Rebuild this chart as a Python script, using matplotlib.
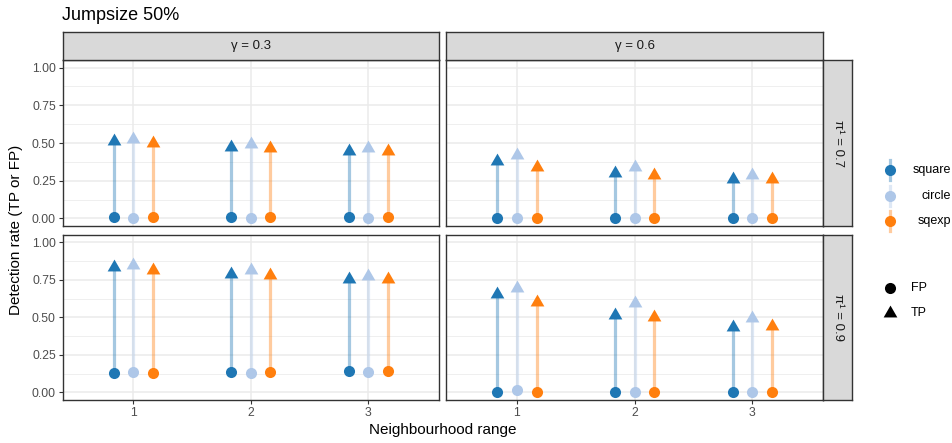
import numpy as np
import matplotlib
matplotlib.use("Agg")
import matplotlib.pyplot as plt
from matplotlib.path import Path
from matplotlib.lines import Line2D

plt.rcParams['font.family'] = ['Liberation Sans', 'DejaVu Sans']

# ---------------- data ----------------
ranges = [1, 2, 3]
kernels = ["square", "circle", "sqexp"]
kernel_colors = ["#1f77b4", "#aec7e8", "#ff7f0e"]
gammas = [0.3, 0.6]
pis = [0.7, 0.9]

# TP / FP rates, keyed by (pi, gamma), one list per kernel over ranges 1..3
tp_07_03 = {"square": [0.515, 0.473, 0.447], "circle": [0.529, 0.495, 0.465], "sqexp": [0.497, 0.467, 0.447]}
fp_07_03 = {"square": [0.007, 0.007, 0.007], "circle": [0.006, 0.006, 0.006], "sqexp": [0.007, 0.007, 0.007]}
tp_07_06 = {"square": [0.382, 0.298, 0.260], "circle": [0.420, 0.340, 0.287], "sqexp": [0.344, 0.289, 0.260]}
fp_07_06 = {"square": [0.002, 0.001, 0.001], "circle": [0.002, 0.001, 0.001], "sqexp": [0.002, 0.001, 0.001]}
tp_09_03 = {"square": [0.834, 0.787, 0.754], "circle": [0.846, 0.816, 0.776], "sqexp": [0.817, 0.780, 0.754]}
fp_09_03 = {"square": [0.130, 0.134, 0.140], "circle": [0.136, 0.130, 0.134], "sqexp": [0.130, 0.136, 0.140]}
tp_09_06 = {"square": [0.658, 0.517, 0.437], "circle": [0.694, 0.598, 0.499], "sqexp": [0.603, 0.504, 0.440]}
fp_09_06 = {"square": [0.005, 0.000, 0.000], "circle": [0.017, 0.005, 0.003], "sqexp": [0.005, 0.000, 0.000]}

tp = {(0.7, 0.3): tp_07_03, (0.7, 0.6): tp_07_06, (0.9, 0.3): tp_09_03, (0.9, 0.6): tp_09_06}
fp = {(0.7, 0.3): fp_07_03, (0.7, 0.6): fp_07_06, (0.9, 0.3): fp_09_03, (0.9, 0.6): fp_09_06}

# ---------------- layout ----------------
W, H = 953, 443
fig = plt.figure(figsize=(W / 100, H / 100), dpi=100)


def rect(x0, y0, x1, y1):
    return [x0 / W, 1 - y1 / H, (x1 - x0) / W, (y1 - y0) / H]


col_x = [(62.7, 438.7), (446.3, 823.0)]
row_y = [(60.0, 226.0), (234.7, 400.0)]
strip_top = (32.0, 60.0)
strip_right = (823.0, 852.3)

border = "#333333"
grid_col = "#EBEBEB"
strip_fill = "#D9D9D9"

# triangle with its centroid at the origin (R pch 17 style)
tri = Path([(0, 1.555), (1.3468, -0.7776), (-1.3468, -0.7776), (0, 1.555)],
           [Path.MOVETO, Path.LINETO, Path.LINETO, Path.CLOSEPOLY])

dodge = [-1 / 6, 0, 1 / 6]

for r, p in enumerate(pis):
    for c, g in enumerate(gammas):
        ax = fig.add_axes(rect(col_x[c][0], row_y[r][0], col_x[c][1], row_y[r][1]))
        ax.set_xlim(0.4, 3.6)
        ax.set_ylim(-0.05, 1.05)
        ax.set_xticks(ranges)
        ax.set_yticks([0, 0.25, 0.5, 0.75, 1.0])
        ax.set_yticks([0.125, 0.375, 0.625, 0.875], minor=True)
        ax.grid(True, which="major", color=grid_col, lw=1.1)
        ax.grid(True, which="minor", axis="y", color=grid_col, lw=0.55)
        ax.set_axisbelow(True)
        for s in ax.spines.values():
            s.set_color(border)
            s.set_linewidth(1.0)
        ax.tick_params(which="major", direction="out", length=3, width=0.8,
                       color=border, labelcolor="#4D4D4D", labelsize=8.8, pad=2)
        ax.tick_params(which="minor", length=0)
        ax.set_yticklabels(["0.00", "0.25", "0.50", "0.75", "1.00"])
        if c == 1:
            ax.tick_params(axis="y", left=False, labelleft=False)
        if r == 0:
            ax.tick_params(axis="x", bottom=False, labelbottom=False)

        d_tp = tp[(p, g)]
        d_fp = fp[(p, g)]
        for k, kern in enumerate(kernels):
            xs = np.array(ranges) + dodge[k]
            ax.vlines(xs, d_fp[kern], d_tp[kern], color=kernel_colors[k],
                      alpha=0.4, lw=2.3, zorder=2)
        for k, kern in enumerate(kernels):
            xs = np.array(ranges) + dodge[k]
            ax.plot(xs, d_fp[kern], "o", ms=8, color=kernel_colors[k], mew=0, zorder=3)
            ax.plot(xs, d_tp[kern], marker=tri, ls="none", ms=11.4,
                    color=kernel_colors[k], mew=0, zorder=3)

        # strips
        if r == 0:
            sax = fig.add_axes(rect(col_x[c][0], strip_top[0], col_x[c][1], strip_top[1]))
            sax.set_facecolor(strip_fill)
            sax.set_xticks([]); sax.set_yticks([])
            for s in sax.spines.values():
                s.set_color(border); s.set_linewidth(1.0)
            sax.text(0.5, 0.5, "γ = %g" % g, ha="center", va="center",
                     fontsize=9.5, color="#1A1A1A", transform=sax.transAxes)
        if c == 1:
            sax = fig.add_axes(rect(strip_right[0], row_y[r][0], strip_right[1], row_y[r][1]))
            sax.set_facecolor(strip_fill)
            sax.set_xticks([]); sax.set_yticks([])
            for s in sax.spines.values():
                s.set_color(border); s.set_linewidth(1.0)
            sax.text(0.5, 0.5, "π¹ = %g" % p, ha="center", va="center", rotation=-90,
                     fontsize=9.5, color="#1A1A1A", transform=sax.transAxes)

# titles
fig.text(62 / W, 1 - 15 / H, "Jumpsize 50%", fontsize=13, ha="left", va="center")
fig.text(443 / W, 1 - 430 / H, "Neighbourhood range", fontsize=11, ha="center", va="center")
fig.text(16 / W, 1 - 230 / H, "Detection rate (TP or FP)", fontsize=11,
         ha="center", va="center", rotation=90)

# legends
lax = fig.add_axes([0, 0, 1, 1], facecolor="none")
lax.set_xlim(0, W); lax.set_ylim(H, 0)
lax.axis("off")
for key_y, kern, col in zip([170, 196, 221], kernels, kernel_colors):
    lax.add_line(Line2D([890, 890], [key_y - 10, key_y + 10], color=col, alpha=0.4, lw=2.3))
    lax.plot([890], [key_y], "o", ms=8, color=col, mew=0)
    lax.text(951, key_y, kern, ha="right", va="center", fontsize=9, color="black")
for key_y, lab, mk in zip([288, 313], ["FP", "TP"], ["o", tri]):
    lax.plot([890], [key_y], marker=mk, ls="none", ms=8 if lab == "FP" else 11.4,
             color="black", mew=0)
    lax.text(911, key_y, lab, ha="left", va="center", fontsize=9, color="black")

fig.savefig("out.png", dpi=100)
